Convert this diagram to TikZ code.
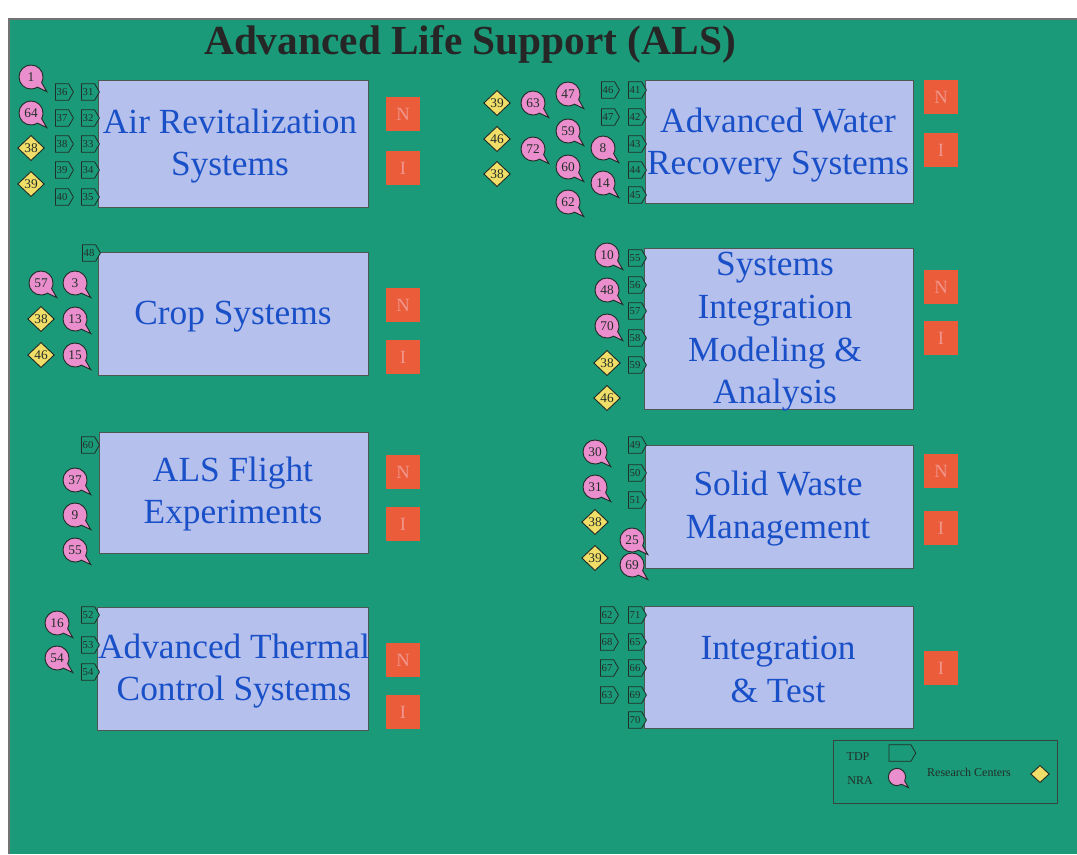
\documentclass[tikz,border=0pt]{standalone}
\usepackage{fontspec}
\setmainfont{Liberation Serif}
\usetikzlibrary{shapes.geometric,shapes.symbols,shapes.callouts}
\definecolor{bggreen}{RGB}{26,154,120}
\definecolor{boxfill}{RGB}{182,192,236}
\definecolor{boxtext}{RGB}{25,80,200}
\definecolor{nrapink}{RGB}{234,142,206}
\definecolor{rcyellow}{RGB}{240,222,104}
\definecolor{nired}{RGB}{234,92,58}
\definecolor{nitext}{RGB}{240,150,140}
\definecolor{outl}{RGB}{35,45,40}
\begin{document}
\begin{tikzpicture}[x=0.75pt,y=-0.75pt,
  area/.style={draw=outl!80,line width=0.7pt,fill=boxfill,inner sep=0pt},
  areatext/.style={text=boxtext,align=center,font=\fontsize{26.5}{32}\selectfont,inner sep=0pt},
  nibox/.style={fill=nired,minimum width=25pt,minimum height=25pt,inner sep=0pt,text=nitext,font=\fontsize{14}{14}\selectfont},
  tdp/.style={signal,signal to=east,signal pointer angle=120,draw=outl,fill=bggreen,line width=0.6pt,minimum width=13.5pt,minimum height=12.5pt,inner sep=0pt,text=outl,font=\fontsize{8}{8}\selectfont},
  nra/.style={ellipse callout,callout relative pointer={(5.2pt,-4.8pt)},callout pointer arc=30,draw=outl,fill=nrapink,line width=0.7pt,minimum width=18pt,minimum height=18pt,inner sep=0pt,text=outl,font=\fontsize{10}{10}\selectfont},
  rc/.style={diamond,draw=outl,fill=rcyellow,line width=0.7pt,minimum width=20pt,minimum height=19pt,inner sep=0pt,text=outl,font=\fontsize{10}{10}\selectfont},
  legtext/.style={text=outl,font=\fontsize{9}{9}\selectfont,inner sep=0pt}
]
\useasboundingbox (0,0) rectangle (1077,854);
\fill[white] (0,0) rectangle (1077,854);
\fill[bggreen] (9,19) rectangle (1077,854);
\draw[black!55,line width=0.8pt] (9,854) -- (9,19) -- (1077,19);

\node[text=black!85,font=\bfseries\fontsize{31}{31}\selectfont,inner sep=0pt] (title) at (470,44) {Advanced Life Support (ALS)};

% ---------- area boxes ----------
\node[area,minimum width=202.5pt,minimum height=95.25pt] (ar) at (233,143.5) {};
\node[area,minimum width=202.5pt,minimum height=92.25pt] (crop) at (233,313.5) {};
\node[area,minimum width=201.75pt,minimum height=90.75pt] (fl) at (233.5,492.5) {};
\node[area,minimum width=203.25pt,minimum height=92.25pt] (th) at (232.5,668.5) {};
\node[area,minimum width=201pt,minimum height=92.25pt] (wr) at (779,141.5) {};
\node[area,minimum width=201.75pt,minimum height=120.75pt] (si) at (778.5,328.5) {};
\node[area,minimum width=201pt,minimum height=92.25pt] (sw) at (779,506.5) {};
\node[area,minimum width=201.75pt,minimum height=91.5pt] (it) at (778.5,667) {};

\node[areatext] (ar-t) at (230,146) {Air Revitalization\\Systems};
\node[areatext] (crop-t) at (233,317) {Crop Systems};
\node[areatext] (fl-t) at (233,494) {ALS Flight\\Experiments};
\node[areatext] (th-t) at (234,671) {Advanced Thermal\\Control Systems};
\node[areatext] (wr-t) at (778,145) {Advanced Water\\Recovery Systems};
\node[areatext] (si-t) at (775,332) {Systems\\Integration\\Modeling \&\\Analysis};
\node[areatext] (sw-t) at (778,508.5) {Solid Waste\\Management};
\node[areatext] (it-t) at (778,669.5) {Integration\\\& Test};

% ---------- N / I boxes ----------
\node[nibox] (ar-N) at (403,114) {N};
\node[nibox] (ar-I) at (403,168) {I};
\node[nibox] (crop-N) at (403,305) {N};
\node[nibox] (crop-I) at (403,357) {I};
\node[nibox] (fl-N) at (403,472) {N};
\node[nibox] (fl-I) at (403,524) {I};
\node[nibox] (th-N) at (403,660) {N};
\node[nibox] (th-I) at (403,712) {I};
\node[nibox] (wr-N) at (941,97) {N};
\node[nibox] (wr-I) at (941,150) {I};
\node[nibox] (si-N) at (941,287) {N};
\node[nibox] (si-I) at (941,338) {I};
\node[nibox] (sw-N) at (941,471) {N};
\node[nibox] (sw-I) at (941,528) {I};
\node[nibox] (it-I) at (941,668) {I};

% ---------- Air Revitalization ----------
\node[nra] (ar-n1) at (31,77) {1};
\node[nra] (ar-n2) at (31,113) {64};
\node[rc] (ar-r1) at (31,148) {38};
\node[rc] (ar-r2) at (31,184) {39};
\foreach \n/\y [count=\i] in {36/92,37/118,38/144,39/170,40/197}
  \node[tdp] (ar-a\i) at (62,\y) {\n};
\foreach \n/\y [count=\i] in {31/92,32/118,33/144,34/170,35/197}
  \node[tdp] (ar-b\i) at (88,\y) {\n};

% ---------- Advanced Water ----------
\node[rc] (wr-r1) at (497,103) {39};
\node[rc] (wr-r2) at (497,139) {46};
\node[rc] (wr-r3) at (497,174) {38};
\foreach \n/\x/\y [count=\i] in {63/533/103,72/533/149,47/568/94,59/568/131,60/568/167,62/568/202,8/603/148,14/603/183}
  \node[nra] (wr-n\i) at (\x,\y) {\n};
\node[tdp] (wr-a1) at (608,90) {46};
\node[tdp] (wr-a2) at (608,117) {47};
\foreach \n/\y [count=\i] in {41/90,42/117,43/144,44/170,45/195}
  \node[tdp] (wr-b\i) at (635,\y) {\n};

% ---------- Crop ----------
\node[tdp] (crop-a1) at (89,253) {48};
\node[nra] (crop-n1) at (41,283) {57};
\node[nra] (crop-n2) at (75,283) {3};
\node[nra] (crop-n3) at (75,319) {13};
\node[nra] (crop-n4) at (75,355) {15};
\node[rc] (crop-r1) at (41,319) {38};
\node[rc] (crop-r2) at (41,355) {46};

% ---------- Flight ----------
\node[tdp] (fl-a1) at (88,445) {60};
\node[nra] (fl-n1) at (75,480) {37};
\node[nra] (fl-n2) at (75,515) {9};
\node[nra] (fl-n3) at (75,550) {55};

% ---------- Thermal ----------
\node[nra] (th-n1) at (57,623) {16};
\node[nra] (th-n2) at (57,658) {54};
\foreach \n/\y [count=\i] in {52/615,53/645,54/672}
  \node[tdp] (th-a\i) at (88,\y) {\n};

% ---------- Systems Integration ----------
\node[nra] (si-n1) at (607,255) {10};
\node[nra] (si-n2) at (607,290) {48};
\node[nra] (si-n3) at (607,326) {70};
\node[rc] (si-r1) at (607,363) {38};
\node[rc] (si-r2) at (607,398) {46};
\foreach \n/\y [count=\i] in {55/258,56/285,57/311,58/338,59/365}
  \node[tdp] (si-a\i) at (635,\y) {\n};

% ---------- Solid Waste ----------
\node[nra] (sw-n1) at (595,452) {30};
\node[nra] (sw-n2) at (595,487) {31};
\node[nra] (sw-n3) at (632,540) {25};
\node[nra] (sw-n4) at (632,565) {69};
\node[rc] (sw-r1) at (595,522) {38};
\node[rc] (sw-r2) at (595,558) {39};
\foreach \n/\y [count=\i] in {49/445,50/473,51/500}
  \node[tdp] (sw-a\i) at (635,\y) {\n};

% ---------- Integration & Test ----------
\foreach \n/\y [count=\i] in {62/615,68/642,67/668,63/695}
  \node[tdp] (it-a\i) at (607,\y) {\n};
\foreach \n/\y [count=\i] in {71/615,65/642,66/668,69/695,70/720}
  \node[tdp] (it-b\i) at (635,\y) {\n};

% ---------- Legend ----------
\node[draw=outl!90,line width=0.7pt,minimum width=168pt,minimum height=47.25pt,inner sep=0pt] (legend) at (945,771.5) {};
\node[legtext] (lg-tdp) at (858,757) {TDP};
\node[tdp,minimum width=20pt,minimum height=12.5pt] (lg-tdps) at (900,753) {};
\node[legtext] (lg-nra) at (860,781) {NRA};
\node[nra,minimum width=13pt,minimum height=13pt,callout relative pointer={(3.8pt,-3.5pt)}] (lg-nras) at (897,777) {};
\node[legtext] (lg-rc) at (969,772) {Research Centers};
\node[rc,minimum width=14pt,minimum height=13pt] (lg-rcs) at (1040,774) {};
\end{tikzpicture}
\end{document}
